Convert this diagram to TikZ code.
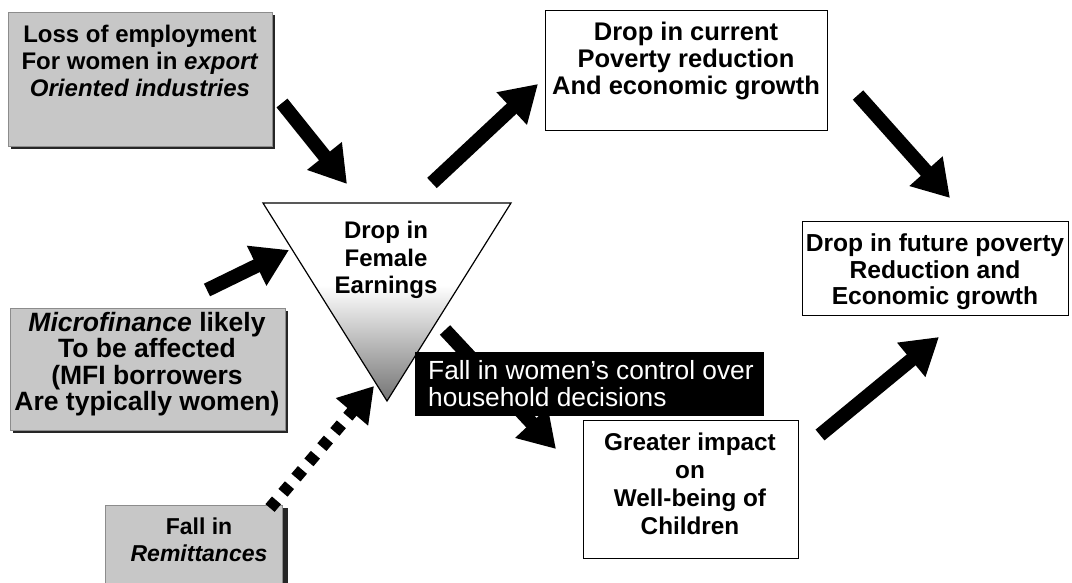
\documentclass[tikz,border=0pt]{standalone}
\usepackage{fontspec}
\setmainfont{Liberation Sans}
\usetikzlibrary{arrows.meta}
\tikzset{
  graybox/.style={draw=black!45, line width=0.8pt, fill=black!22},
  grayshadow/.style={fill=black!85},
  whitebox/.style={draw=black, line width=1.2pt, fill=white},
  blackbox/.style={fill=black, draw=black},
  btext/.style={font=\fontsize{24}{27}\selectfont\bfseries, align=center, inner sep=0pt},
  wtext/.style={font=\fontsize{26.3}{27}\selectfont, align=left, inner sep=0pt, text=white, anchor=west},
  bigarrow/.style={line width=14pt, -{Triangle[width=42pt,length=36pt]}},
  dotarrow/.style={line width=12pt, dash pattern=on 10pt off 10pt, -{Triangle[width=40pt,length=34pt]}},
}
\begin{document}
\begin{tikzpicture}[x=1pt,y=-1pt]
\useasboundingbox (0,0) rectangle (1072,582);
% ---------- gray boxes ----------
\fill[grayshadow] (11,15) rectangle (275,149);
\node[graybox, anchor=north west, minimum width=264pt, minimum height=134pt, inner sep=0pt] (loss) at (8,12) {};
\node[btext] (losstxt) at (140,61) {Loss of employment\\For women in \textit{export}\\\textit{Oriented industries}};

\fill[grayshadow] (13,311) rectangle (288,433);
\node[graybox, anchor=north west, minimum width=275pt, minimum height=122pt, inner sep=0pt] (micro) at (10,308) {};
\node[btext, font=\fontsize{26.5}{26.5}\selectfont\bfseries] (microtxt) at (147,364) {\textit{Microfinance} likely\\To be affected\\(MFI borrowers\\Are typically women)};

\fill[grayshadow] (108,508) rectangle (288,590);
\node[graybox, anchor=north west, minimum width=177pt, minimum height=85pt, inner sep=0pt] (remit) at (105,505) {};
\node[btext, font=\fontsize{23}{27}\selectfont\bfseries] (remittxt) at (199,540) {Fall in\\\textit{Remittances}};

% ---------- triangle ----------
\coordinate (tl) at (263,203);
\coordinate (tr) at (511,203);
\coordinate (tb) at (387,401);
\begin{scope}
  \clip (tl) -- (tr) -- (tb) -- cycle;
  \fill[white] (250,195) rectangle (525,290);
  \shade[top color=white, bottom color=black!55] (250,285) rectangle (525,402);
\end{scope}
\draw[line width=1.2pt, line join=miter] (tl) -- (tr) -- (tb) -- cycle;
\node[btext, font=\fontsize{24}{27.5}\selectfont\bfseries] (tritxt) at (386,260) {Drop in\\Female\\Earnings};

% ---------- white boxes ----------
\node[whitebox, anchor=north west, minimum width=282pt, minimum height=120pt, inner sep=0pt] (current) at (545,10) {};
\node[btext, font=\fontsize{25.5}{27}\selectfont\bfseries] (currenttxt) at (686,61) {Drop in current\\Poverty reduction\\And economic growth};

\node[whitebox, anchor=north west, minimum width=266pt, minimum height=94pt, inner sep=0pt] (future) at (802,221) {};
\node[btext, font=\fontsize{24.6}{26.5}\selectfont\bfseries] (futuretxt) at (935,272) {Drop in future poverty\\Reduction and\\Economic growth};

\node[whitebox, anchor=north west, minimum width=215pt, minimum height=138pt, inner sep=0pt] (greater) at (583,420) {};
\node[btext, font=\fontsize{24.3}{28}\selectfont\bfseries] (greatertxt) at (690,484) {Greater impact\\on\\Well-being of\\Children};

% ---------- arrows ----------
\coordinate (a1) at (282,103); \coordinate (a2) at (347,184);
\coordinate (b1) at (207,290); \coordinate (b2) at (289,250);
\coordinate (c1) at (270,508); \coordinate (c2) at (374,386);
\coordinate (d1) at (432,183); \coordinate (d2) at (538,84);
\coordinate (e1) at (858,95);  \coordinate (e2) at (950,198);
\coordinate (f1) at (445,330); \coordinate (f2) at (556,449);
\coordinate (g1) at (820,435); \coordinate (g2) at (939,337);
\draw[bigarrow] (a1) -- (a2);
\draw[bigarrow] (b1) -- (b2);
\draw[dotarrow] (c1) -- (c2);
\draw[bigarrow] (d1) -- (d2);
\draw[bigarrow] (e1) -- (e2);
\draw[bigarrow] (f1) -- (f2);
\draw[bigarrow] (g1) -- (g2);

% ---------- black label box ----------
\node[blackbox, anchor=north west, minimum width=348pt, minimum height=63pt, inner sep=0pt] (control) at (415,352) {};
\node[wtext] (controltxt) at (428,384) {Fall in women's control over\\household decisions};
\end{tikzpicture}
\end{document}
